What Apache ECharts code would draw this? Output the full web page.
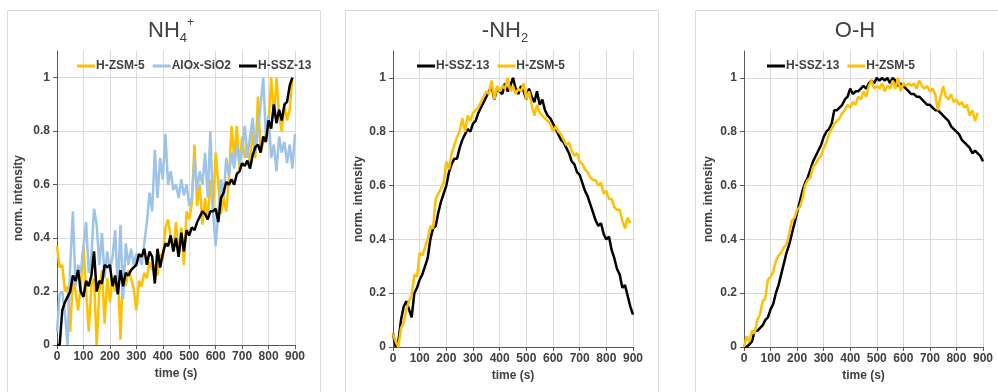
<!DOCTYPE html>
<html>
<head>
<meta charset="utf-8">
<script src="https://cdn.jsdelivr.net/npm/echarts@6/dist/echarts.min.js"></script>
<style>
  html, body { margin: 0; padding: 0; background: #fff; }
  #chart { width: 998px; height: 392px; }
</style>
</head>
<body>
<div id="chart"></div>
<script>
// sampling step of the traces (s)
const STEP_S = 10;
const xTicks = [0, 100, 200, 300, 400, 500, 600, 700, 800, 900];
const yTicks = [0, 0.2, 0.4, 0.6, 0.8, 1];

// panel 1: NH4+
const nh4Zsm = [0.37,0.29,0.3,0.2,0.22,0.05,0.25,0.2,0.13,0.22,
  0.37,0.2,0.05,0.22,0.25,0.0,0.2,0.28,0.08,0.25,
  0.16,0.25,0.2,0.28,0.02,0.3,0.22,0.28,0.25,0.21,
  0.13,0.24,0.22,0.27,0.25,0.31,0.28,0.3,0.26,0.34,
  0.32,0.44,0.47,0.4,0.35,0.46,0.33,0.44,0.3,0.5,
  0.47,0.53,0.75,0.52,0.6,0.45,0.55,0.47,0.62,0.5,
  0.72,0.6,0.49,0.55,0.5,0.62,0.82,0.7,0.82,0.66,
  0.78,0.7,0.74,0.68,0.8,0.7,0.93,0.72,0.76,0.78,
  0.82,1.0,0.85,1.0,0.86,0.8,0.9,0.84,0.88,1.0];
const nh4Alox = [0.05,0.19,0.2,0.12,0.0,0.3,0.5,0.22,0.3,0.27,
  0.37,0.46,0.27,0.33,0.51,0.45,0.3,0.42,0.25,0.35,
  0.28,0.33,0.43,0.2,0.45,0.17,0.38,0.3,0.36,0.3,
  0.34,0.33,0.3,0.38,0.46,0.57,0.5,0.73,0.55,0.7,
  0.62,0.79,0.6,0.65,0.58,0.6,0.55,0.62,0.56,0.6,
  0.52,0.55,0.7,0.58,0.65,0.6,0.72,0.55,0.8,0.5,
  0.37,0.5,0.62,0.55,0.7,0.63,0.72,0.66,0.75,0.68,
  0.73,0.82,0.7,0.78,0.85,0.72,0.8,0.9,1.0,0.78,
  0.86,0.7,0.75,0.65,0.78,0.72,0.76,0.68,0.75,0.66,0.79];
const nh4Ssz = [0,0,0.13,0.16,0.18,0.2,0.26,0.24,0.28,0.2,
  0.18,0.24,0.22,0.26,0.35,0.2,0.24,0.23,0.3,0.29,
  0.3,0.22,0.26,0.19,0.28,0.22,0.27,0.26,0.28,0.29,
  0.3,0.34,0.33,0.36,0.3,0.35,0.33,0.23,0.36,0.29,
  0.34,0.38,0.37,0.41,0.35,0.4,0.33,0.42,0.35,0.43,
  0.41,0.44,0.43,0.46,0.48,0.5,0.49,0.47,0.5,0.5,
  0.51,0.46,0.55,0.57,0.61,0.6,0.62,0.6,0.64,0.65,
  0.68,0.67,0.69,0.66,0.71,0.74,0.75,0.72,0.78,0.76,
  0.84,0.81,0.9,0.83,0.88,0.84,0.9,0.91,0.97,1.0];

// panel 2: -NH2
const nh2Ssz = [0.05,0.0,0.02,0.1,0.15,0.17,0.14,0.11,0.2,0.22,
  0.25,0.27,0.3,0.33,0.4,0.44,0.45,0.5,0.54,0.57,
  0.6,0.65,0.68,0.7,0.7,0.74,0.77,0.79,0.81,0.8,
  0.83,0.84,0.87,0.89,0.91,0.93,0.95,0.97,0.92,0.96,
  0.95,0.94,0.98,0.95,0.97,1.0,0.96,0.94,0.97,0.95,
  0.92,0.96,0.93,0.91,0.95,0.9,0.92,0.88,0.86,0.85,
  0.83,0.81,0.79,0.77,0.76,0.74,0.72,0.69,0.68,0.65,
  0.64,0.61,0.58,0.56,0.53,0.5,0.47,0.45,0.46,0.42,
  0.4,0.41,0.36,0.33,0.29,0.27,0.22,0.23,0.19,0.15,0.12];
const nh2Zsm = [0.05,0.02,0.0,0.07,0.09,0.14,0.17,0.19,0.27,0.26,
  0.35,0.34,0.37,0.4,0.45,0.44,0.55,0.57,0.59,0.61,
  0.69,0.66,0.72,0.75,0.78,0.8,0.85,0.8,0.86,0.84,
  0.87,0.88,0.89,0.91,0.93,0.95,0.94,0.99,0.92,0.97,
  0.95,0.97,0.96,1.0,0.95,0.97,0.94,0.96,0.95,0.98,
  0.92,0.95,0.9,0.86,0.9,0.87,0.86,0.85,0.84,0.83,
  0.8,0.82,0.8,0.79,0.77,0.75,0.76,0.73,0.71,0.72,
  0.69,0.68,0.66,0.65,0.63,0.62,0.62,0.6,0.61,0.57,
  0.58,0.55,0.55,0.52,0.51,0.51,0.47,0.44,0.48,0.46];

// panel 3: O-H
const ohSsz = [0,0,0.01,0.02,0.06,0.06,0.07,0.08,0.1,0.11,
  0.14,0.16,0.2,0.23,0.27,0.31,0.35,0.38,0.42,0.46,
  0.5,0.54,0.58,0.61,0.63,0.66,0.69,0.71,0.73,0.75,
  0.78,0.8,0.81,0.83,0.88,0.88,0.89,0.9,0.92,0.93,
  0.96,0.94,0.95,0.95,0.96,0.97,0.96,0.98,0.99,0.98,
  1.0,0.99,1.0,0.99,1.0,0.98,1.0,0.99,0.97,0.98,
  0.97,0.96,0.95,0.94,0.94,0.93,0.93,0.92,0.91,0.9,
  0.9,0.89,0.88,0.88,0.87,0.86,0.85,0.84,0.82,0.81,
  0.8,0.79,0.77,0.76,0.75,0.74,0.72,0.73,0.72,0.71,0.69];
const ohZsm = [0,0.04,0.02,0.06,0.05,0.1,0.12,0.17,0.18,0.25,
  0.26,0.28,0.32,0.34,0.35,0.37,0.38,0.42,0.47,0.48,
  0.51,0.52,0.55,0.6,0.62,0.63,0.67,0.68,0.7,0.71,
  0.74,0.76,0.79,0.81,0.83,0.84,0.85,0.87,0.88,0.9,
  0.89,0.91,0.9,0.93,0.92,0.95,0.93,0.97,0.99,0.96,
  0.97,0.96,0.98,0.95,0.97,0.96,0.99,0.96,1.0,0.95,
  0.98,0.97,0.98,0.97,0.98,0.96,0.99,0.97,0.96,0.97,
  0.95,0.96,0.94,0.88,0.93,0.97,0.93,0.92,0.94,0.91,
  0.92,0.9,0.91,0.89,0.9,0.86,0.88,0.84,0.87];

const YELLOW = '#FFC000';
const BLUE = '#9DC3E6';
const BLACK = '#000000';
const TXT = '#404040';

const chart = echarts.init(document.getElementById('chart'));

const pts = arr => arr.map((v, i) => [i * STEP_S, v]);

// plot rectangles of the three panels
const grids = [
  { left: 57, top: 51, width: 238, height: 294 },
  { left: 393, top: 51, width: 240, height: 296 },
  { left: 744, top: 51, width: 239, height: 296 }
];

function xAx(i) {
  return {
    type: 'value', gridIndex: i, min: 0, max: 900, interval: 100,
    name: 'time (s)', nameLocation: 'middle', nameGap: 21,
    nameTextStyle: { fontFamily: 'Liberation Sans', fontWeight: 'bold', fontSize: 12, color: TXT },
    axisLine: { lineStyle: { color: '#595959', width: 1 } },
    axisTick: { show: true, length: 4, lineStyle: { color: '#595959' } },
    axisLabel: { fontFamily: 'Liberation Sans', fontWeight: 'bold', fontSize: 12, color: TXT, margin: 6 },
    splitLine: { show: true, lineStyle: { color: '#d9d9d9', width: 1 } }
  };
}
function yAx(i, gap) {
  return {
    type: 'value', gridIndex: i, min: 0, max: 1.1, interval: 0.2,
    name: 'norm. intensity', nameLocation: 'middle', nameGap: gap, nameRotate: 90,
    nameTextStyle: { fontFamily: 'Liberation Sans', fontWeight: 'bold', fontSize: 12, color: TXT },
    axisLine: { show: true, lineStyle: { color: '#595959', width: 1 } },
    axisTick: { show: true, length: 4, lineStyle: { color: '#595959' } },
    axisLabel: { fontFamily: 'Liberation Sans', fontWeight: 'bold', fontSize: 12, color: TXT, margin: 7,
      showMaxLabel: false, formatter: v => (yTicks.indexOf(+v.toFixed(1)) >= 0 ? String(+v.toFixed(1)) : '') },
    splitLine: { show: true, showMaxLine: false, lineStyle: { color: '#d9d9d9', width: 1 } }
  };
}
function line(name, data, color, i) {
  return {
    type: 'line', name, xAxisIndex: i, yAxisIndex: i, data: pts(data),
    showSymbol: false, symbol: 'none', color,
    lineStyle: { color, width: 2.5 }, animation: false
  };
}
function legend(i, left, names) {
  return {
    left, top: 55, orient: 'horizontal', icon: 'rect', itemWidth: 18, itemHeight: 3, itemGap: 8,
    data: names, selectedMode: false,
    textStyle: { fontFamily: 'Liberation Sans', fontWeight: 'bold', fontSize: 12, color: TXT, padding: [0, 0, 0, -4] }
  };
}
const titleStyle = {
  fontWeight: 'normal',
  rich: {
    m: { fontFamily: 'Liberation Sans', fontWeight: 'normal', fontSize: 22, color: TXT, lineHeight: 28 },
    sub: { fontFamily: 'Liberation Sans', fontWeight: 'normal', fontSize: 13, color: TXT, lineHeight: 14, verticalAlign: 'bottom' },
    sup: { fontFamily: 'Liberation Sans', fontWeight: 'normal', fontSize: 12, color: TXT, lineHeight: 14, verticalAlign: 'top' }
  }
};

chart.setOption({
  backgroundColor: '#fff',
  animation: false,
  graphic: [
    { type: 'rect', shape: { x: 7.5, y: 10.5, width: 313, height: 390 }, style: { fill: 'none', stroke: '#d9d9d9', lineWidth: 1 } },
    { type: 'rect', shape: { x: 345.5, y: 10.5, width: 313, height: 390 }, style: { fill: 'none', stroke: '#d9d9d9', lineWidth: 1 } },
    { type: 'rect', shape: { x: 695.5, y: 10.5, width: 310, height: 390 }, style: { fill: 'none', stroke: '#d9d9d9', lineWidth: 1 } }
  ],
  title: [
    { text: '{m|NH}{sub|4}{sup|+}', left: 166, top: 12, textAlign: 'center', textStyle: titleStyle },
    { text: '{m|-NH}{sub|2}', left: 500, top: 12, textAlign: 'center', textStyle: titleStyle },
    { text: '{m|O-H}', left: 850, top: 12, textAlign: 'center', textStyle: titleStyle }
  ],
  legend: [
    legend(0, 72, ['H-ZSM-5', 'AlOx-SiO2', 'H-SSZ-13']),
    legend(1, 412, ['H-SSZ-13', 'H-ZSM-5']),
    legend(2, 762, ['H-SSZ-13', 'H-ZSM-5'])
  ],
  grid: grids.map(g => Object.assign({ outerBoundsMode: 'none' }, g)),
  xAxis: [xAx(0), xAx(1), xAx(2)],
  yAxis: [yAx(0, 32), yAx(1, 28), yAx(2, 29)],
  series: [
    line('H-ZSM-5', nh4Zsm, YELLOW, 0),
    line('AlOx-SiO2', nh4Alox, BLUE, 0),
    line('H-SSZ-13', nh4Ssz, BLACK, 0),
    line('H-SSZ-13', nh2Ssz, BLACK, 1),
    line('H-ZSM-5', nh2Zsm, YELLOW, 1),
    line('H-SSZ-13', ohSsz, BLACK, 2),
    line('H-ZSM-5', ohZsm, YELLOW, 2)
  ]
});
</script>
</body>
</html>
